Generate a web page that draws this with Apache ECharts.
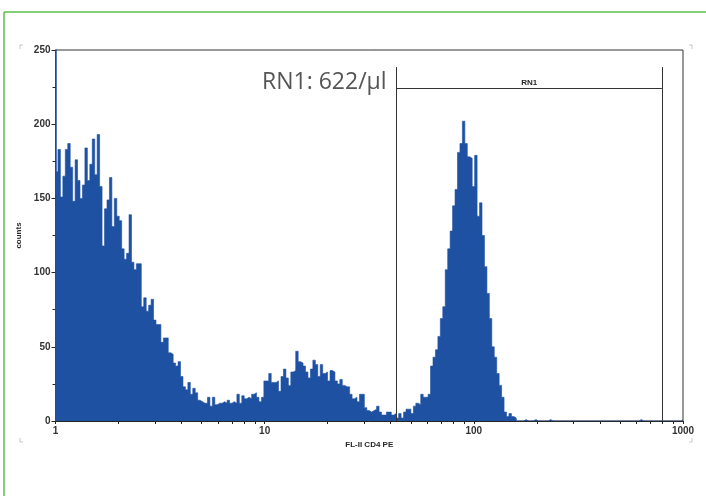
<!DOCTYPE html>
<html>
<head>
<meta charset="utf-8">
<script src="https://cdn.jsdelivr.net/npm/echarts@6/dist/echarts.min.js"></script>
<style>
html,body{margin:0;padding:0;background:#fff;}
#chart{width:706px;height:496px;}
</style>
</head>
<body>
<div id="chart"></div>
<script>
// ---- data ----
var channelCount = 256;          // histogram channels across 3 decades
var xRange = [1, 1000];
var xMajorTicks = [1, 10, 100, 1000];
var xTickLabels = ['1', '10', '100', '1000'];
var yRange = [0, 250];
var yTickStep = 50;

// counts per channel (left to right)
var countsLow = [168,183,151,165,183,187,171,148,176,162,
                 150,159,184,162,173,190,166,193,158,118,
                 143,149,164,131,150,138,135,116,109,113,
                 139,107,102,106,106,77,83,74];
var countsTail = [78,82,68,65,65,53,56,56,46,45,
                  39,37,40,30,23,21,26,18,22,19,
                  14,13,12,12,16,10,16,11,12,12,
                  13,12,14,12,13,12,18,12,17,15,
                  16,15,18,19,16,13,16,27,27];
var countsDim = [32,26,26,27,20,30,35,29,24,33,
                 34,47,40,39,37,33,29,35,41,38,
                 30,38,32,33,27,34,33,27,25,28,
                 24,23,23,18,15,16,13,18,18,9,
                 7,6,7,8,10,6,4,4,6,6,
                 4,5,2,5,2,6,8];
var countsCD4 = [8,5,10,12,11,18,16,16,18,37,
                 43,48,57,69,77,102,116,128,145,156,
                 181,187,202,187,178,177,158,179,138,147,
                 125,104,86,69,50,43,32,24,16,6,
                 3,5,3,2];
var countsHigh = [0,0,0,1,0,0,0,1,0,0,
                  0,0,0,1,0,0,0,0,0,0,
                  0,0,0,0,0,0,0,0,0,0,
                  0,0,0,0,0,0,0,0,0,0,
                  0,0,0,0,0,0,0,0,0,0,
                  1,0,0,0,0,0,0,0,0,0,
                  0,0,0,0,0,0,0,1];

var gateName = 'RN1';
var gateX = [42.7, 792];
var gateTop = 238.5;
var gateBarY = 224.2;
var resultText = 'RN1: 622/\u00b5l';

// ---- build ----
var counts = countsLow.concat(countsTail, countsDim, countsCD4, countsHigh);
var decades = Math.log10(xRange[1] / xRange[0]);
function edge(i) { return xRange[0] * Math.pow(10, decades * i / channelCount); }
var stepData = [];
for (var i = 0; i < counts.length; i++) stepData.push([edge(i), counts[i]]);
stepData.push([edge(counts.length), counts[counts.length - 1]]);

var xTickValues = [];
for (var d = 0; d < xMajorTicks.length - 1; d++) {
  for (var m = 1; m < 10; m++) xTickValues.push(xMajorTicks[d] * m);
}
xTickValues.push(xMajorTicks[xMajorTicks.length - 1]);

function xLabel(v) {
  for (var k = 0; k < xMajorTicks.length; k++) {
    if (Math.abs(v - xMajorTicks[k]) < 1e-6 * xMajorTicks[k]) return xTickLabels[k];
  }
  return '';
}

var barColor = '#1f51a3';
var inkColor = '#262626';

var chart = echarts.init(document.getElementById('chart'), null, {renderer: 'canvas'});
chart.setOption({
  animation: false,
  backgroundColor: '#ffffff',
  grid: {
    left: 55.5, right: 23, top: 50, bottom: 75,
    containLabel: false, outerBoundsMode: 'none',
    show: true, borderColor: '#333', borderWidth: 1, backgroundColor: 'transparent'
  },
  xAxis: {
    type: 'log', logBase: 10, min: xRange[0], max: xRange[1],
    axisLine: {show: true, lineStyle: {color: inkColor, width: 1}},
    axisTick: {show: true, length: 3, inside: false, customValues: xTickValues,
               lineStyle: {color: inkColor, width: 1}},
    minorTick: {show: false},
    splitLine: {show: false},
    axisLabel: {fontFamily: 'Liberation Sans', fontSize: 10, fontWeight: 'bold',
                color: '#333', margin: 5, formatter: xLabel},
    name: 'FL-II CD4 PE', nameLocation: 'middle', nameGap: 18,
    nameTextStyle: {fontFamily: 'Liberation Sans', fontSize: 8, fontWeight: 'bold', color: inkColor}
  },
  yAxis: {
    type: 'value', min: yRange[0], max: yRange[1], interval: yTickStep,
    axisLine: {show: true, lineStyle: {color: barColor, width: 1.5}},
    axisTick: {show: true, length: 4, lineStyle: {color: inkColor, width: 1}},
    minorTick: {show: true, splitNumber: 2, length: 3, lineStyle: {color: inkColor, width: 1}},
    splitLine: {show: false},
    minorSplitLine: {show: false},
    axisLabel: {fontFamily: 'Liberation Sans', fontSize: 10, fontWeight: 'bold',
                color: '#333', margin: 5},
    name: 'counts', nameLocation: 'middle', nameGap: 25, nameRotate: 90,
    nameTextStyle: {fontFamily: 'Liberation Sans', fontSize: 8, fontWeight: 'bold', color: inkColor}
  },
  series: [{
    type: 'line',
    step: 'end',
    data: stepData,
    showSymbol: false,
    symbol: 'none',
    clip: true,
    lineStyle: {color: barColor, width: 0.6},
    areaStyle: {color: barColor, opacity: 1},
    z: 2,
    markLine: {
      silent: true,
      symbol: ['none', 'none'],
      animation: false,
      lineStyle: {color: '#333', width: 1, type: 'solid'},
      label: {show: false},
      emphasis: {disabled: true},
      data: [
        [{coord: [gateX[0], 0]}, {coord: [gateX[0], gateTop]}],
        [{coord: [gateX[1], 0]}, {coord: [gateX[1], gateTop]}],
        [{coord: [gateX[0], gateBarY],
          label: {show: true, formatter: gateName, position: 'insideMiddleTop', distance: 1,
                  fontFamily: 'Liberation Sans', fontSize: 8, fontWeight: 'bold', color: inkColor}},
         {coord: [gateX[1], gateBarY]}]
      ]
    }
  }],
  graphic: [
    {type: 'line', shape: {x1: 4, y1: 12, x2: 706, y2: 12}, style: {stroke: '#5cbf4a', lineWidth: 1.5}, silent: true},
    {type: 'line', shape: {x1: 4, y1: 12, x2: 4, y2: 496}, style: {stroke: '#5cbf4a', lineWidth: 1.5}, silent: true},
    {type: 'polyline', shape: {points: [[20, 49], [20, 45], [23, 45]]}, style: {stroke: '#c8c8c8', lineWidth: 1, fill: null}, silent: true},
    {type: 'polyline', shape: {points: [[689, 45], [692, 45], [692, 49]]}, style: {stroke: '#c8c8c8', lineWidth: 1, fill: null}, silent: true},
    {type: 'polyline', shape: {points: [[20, 438], [20, 442], [23, 442]]}, style: {stroke: '#c8c8c8', lineWidth: 1, fill: null}, silent: true},
    {type: 'polyline', shape: {points: [[689, 442], [692, 442], [692, 438]]}, style: {stroke: '#c8c8c8', lineWidth: 1, fill: null}, silent: true},
    {type: 'text', x: 262, y: 82, silent: true,
     style: {text: resultText, fontFamily: 'Open Sans', fontSize: 23, fontWeight: 'normal',
             fill: '#555', textVerticalAlign: 'middle', textAlign: 'left'}}
  ]
});
</script>
</body>
</html>
